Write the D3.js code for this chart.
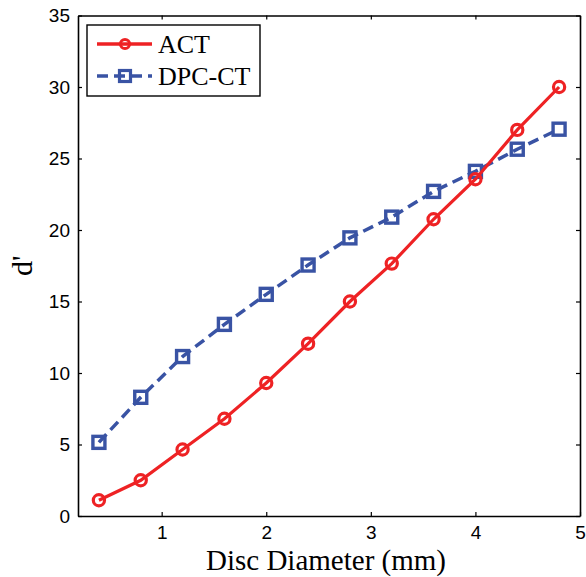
<!DOCTYPE html>
<html>
<head>
<meta charset="utf-8">
<script src="https://cdn.jsdelivr.net/npm/d3@7/dist/d3.min.js"></script>
<style>
  html, body { margin: 0; padding: 0; background: #fff; }
  svg { display: block; }
</style>
</head>
<body>
<svg id="chart" width="586" height="577"></svg>
<script>
// Disc diameter (mm) and detectability index d' for each modality
const diameters = [0.4, 0.8, 1.2, 1.6, 2.0, 2.4, 2.8, 3.2, 3.6, 4.0, 4.4, 4.8];
const actValues = [1.1, 2.5, 4.65, 6.8, 9.3, 12.05, 15.0, 17.65, 20.75, 23.55, 27.0, 30.0];
const dpcValues = [5.15, 8.3, 11.15, 13.4, 15.5, 17.55, 19.45, 20.9, 22.7, 24.1, 25.65, 27.05];
const xTicks = [1, 2, 3, 4, 5];
const yTicks = [0, 5, 10, 15, 20, 25, 30, 35];
const seriesNames = ["ACT", "DPC-CT"];

const svg = d3.select("#chart");
const margin = { left: 78, top: 15.5, right: 6, bottom: 61 };
const W = 586, H = 577;
const x0 = margin.left, x1 = W - margin.right;
const y0 = H - margin.bottom, y1 = margin.top;

const x = d3.scaleLinear().domain([0.2, 5]).range([x0, x1]);
const y = d3.scaleLinear().domain([0, 35]).range([y0, y1]);

const tickFont = "'Liberation Sans', Arial, sans-serif";
const serifFont = "'Liberation Serif', 'Times New Roman', serif";

// Axes: ticks point inward, box drawn on all four sides
const tickLen = 4;
const bottomAxis = d3.axisBottom(x).tickValues(xTicks).tickSizeInner(-tickLen).tickSizeOuter(0).tickPadding(10).tickFormat(d3.format("d"));
const leftAxis = d3.axisLeft(y).tickValues(yTicks).tickSizeInner(-tickLen).tickSizeOuter(0).tickPadding(8).tickFormat(d3.format("d"));
const topAxis = d3.axisTop(x).tickValues(xTicks).tickSizeInner(-tickLen).tickSizeOuter(0).tickFormat("");
const rightAxis = d3.axisRight(y).tickValues(yTicks).tickSizeInner(-tickLen).tickSizeOuter(0).tickFormat("");

function styleAxis(g) {
  g.selectAll(".domain").attr("stroke", "#000").attr("stroke-width", 1.6);
  g.selectAll(".tick line").attr("stroke", "#000").attr("stroke-width", 1.2);
  g.selectAll(".tick text").attr("fill", "#000").style("font-family", tickFont).style("font-size", "19px");
}

svg.append("g").attr("transform", `translate(0,${y0})`).call(bottomAxis).call(styleAxis);
svg.append("g").attr("transform", `translate(${x0},0)`).call(leftAxis).call(styleAxis);
svg.append("g").attr("transform", `translate(0,${y1})`).call(topAxis).call(styleAxis);
svg.append("g").attr("transform", `translate(${x1},0)`).call(rightAxis).call(styleAxis);

// Axis titles
svg.append("text")
  .attr("x", 326).attr("y", 570)
  .attr("text-anchor", "middle")
  .style("font-family", serifFont).style("font-size", "29px")
  .text("Disc Diameter (mm)");

svg.append("text")
  .attr("transform", `translate(32,${(y0 + y1) / 2}) rotate(-90)`)
  .attr("text-anchor", "middle")
  .style("font-family", serifFont).style("font-size", "30px")
  .text("d'");

const red = "#ee2224";
const blue = "#3953a4";

const line = d3.line().x(d => x(d[0])).y(d => y(d[1]));
const actData = diameters.map((d, i) => [d, actValues[i]]);
const dpcData = diameters.map((d, i) => [d, dpcValues[i]]);

// DPC-CT: dashed line with square markers
svg.append("path").datum(dpcData)
  .attr("d", line).attr("fill", "none")
  .attr("stroke", blue).attr("stroke-width", 3.5)
  .attr("stroke-dasharray", "11,6");
svg.selectAll(".sq").data(dpcData).enter().append("rect")
  .attr("x", d => x(d[0]) - 6).attr("y", d => y(d[1]) - 6)
  .attr("width", 12).attr("height", 12)
  .attr("fill", "none").attr("stroke", blue).attr("stroke-width", 3.4);

// ACT: solid line with circle markers
svg.append("path").datum(actData)
  .attr("d", line).attr("fill", "none")
  .attr("stroke", red).attr("stroke-width", 3.2);
svg.selectAll(".circ").data(actData).enter().append("circle")
  .attr("cx", d => x(d[0])).attr("cy", d => y(d[1]))
  .attr("r", 5.6)
  .attr("fill", "none").attr("stroke", red).attr("stroke-width", 3.2);

// Legend
const lg = svg.append("g");
lg.append("rect").attr("x", 87).attr("y", 25).attr("width", 173).attr("height", 71)
  .attr("fill", "#fff").attr("stroke", "#000").attr("stroke-width", 1.4);

const legendRows = [
  { name: seriesNames[0], color: red, dash: null, cy: 44, marker: "circle" },
  { name: seriesNames[1], color: blue, dash: "11,6", cy: 76, marker: "square" }
];
legendRows.forEach(r => {
  lg.append("line").attr("x1", 97).attr("x2", 152).attr("y1", r.cy).attr("y2", r.cy)
    .attr("stroke", r.color).attr("stroke-width", 3.4)
    .attr("stroke-dasharray", r.dash);
  if (r.marker === "circle") {
    lg.append("circle").attr("cx", 125).attr("cy", r.cy).attr("r", 4.6)
      .attr("fill", "none").attr("stroke", r.color).attr("stroke-width", 3);
  } else {
    lg.append("rect").attr("x", 119.5).attr("y", r.cy - 5.5).attr("width", 11).attr("height", 11)
      .attr("fill", "none").attr("stroke", r.color).attr("stroke-width", 3.2);
  }
  lg.append("text").attr("x", 158).attr("y", r.cy + 9)
    .style("font-family", serifFont).style("font-size", "26px")
    .text(r.name);
});
</script>
</body>
</html>
